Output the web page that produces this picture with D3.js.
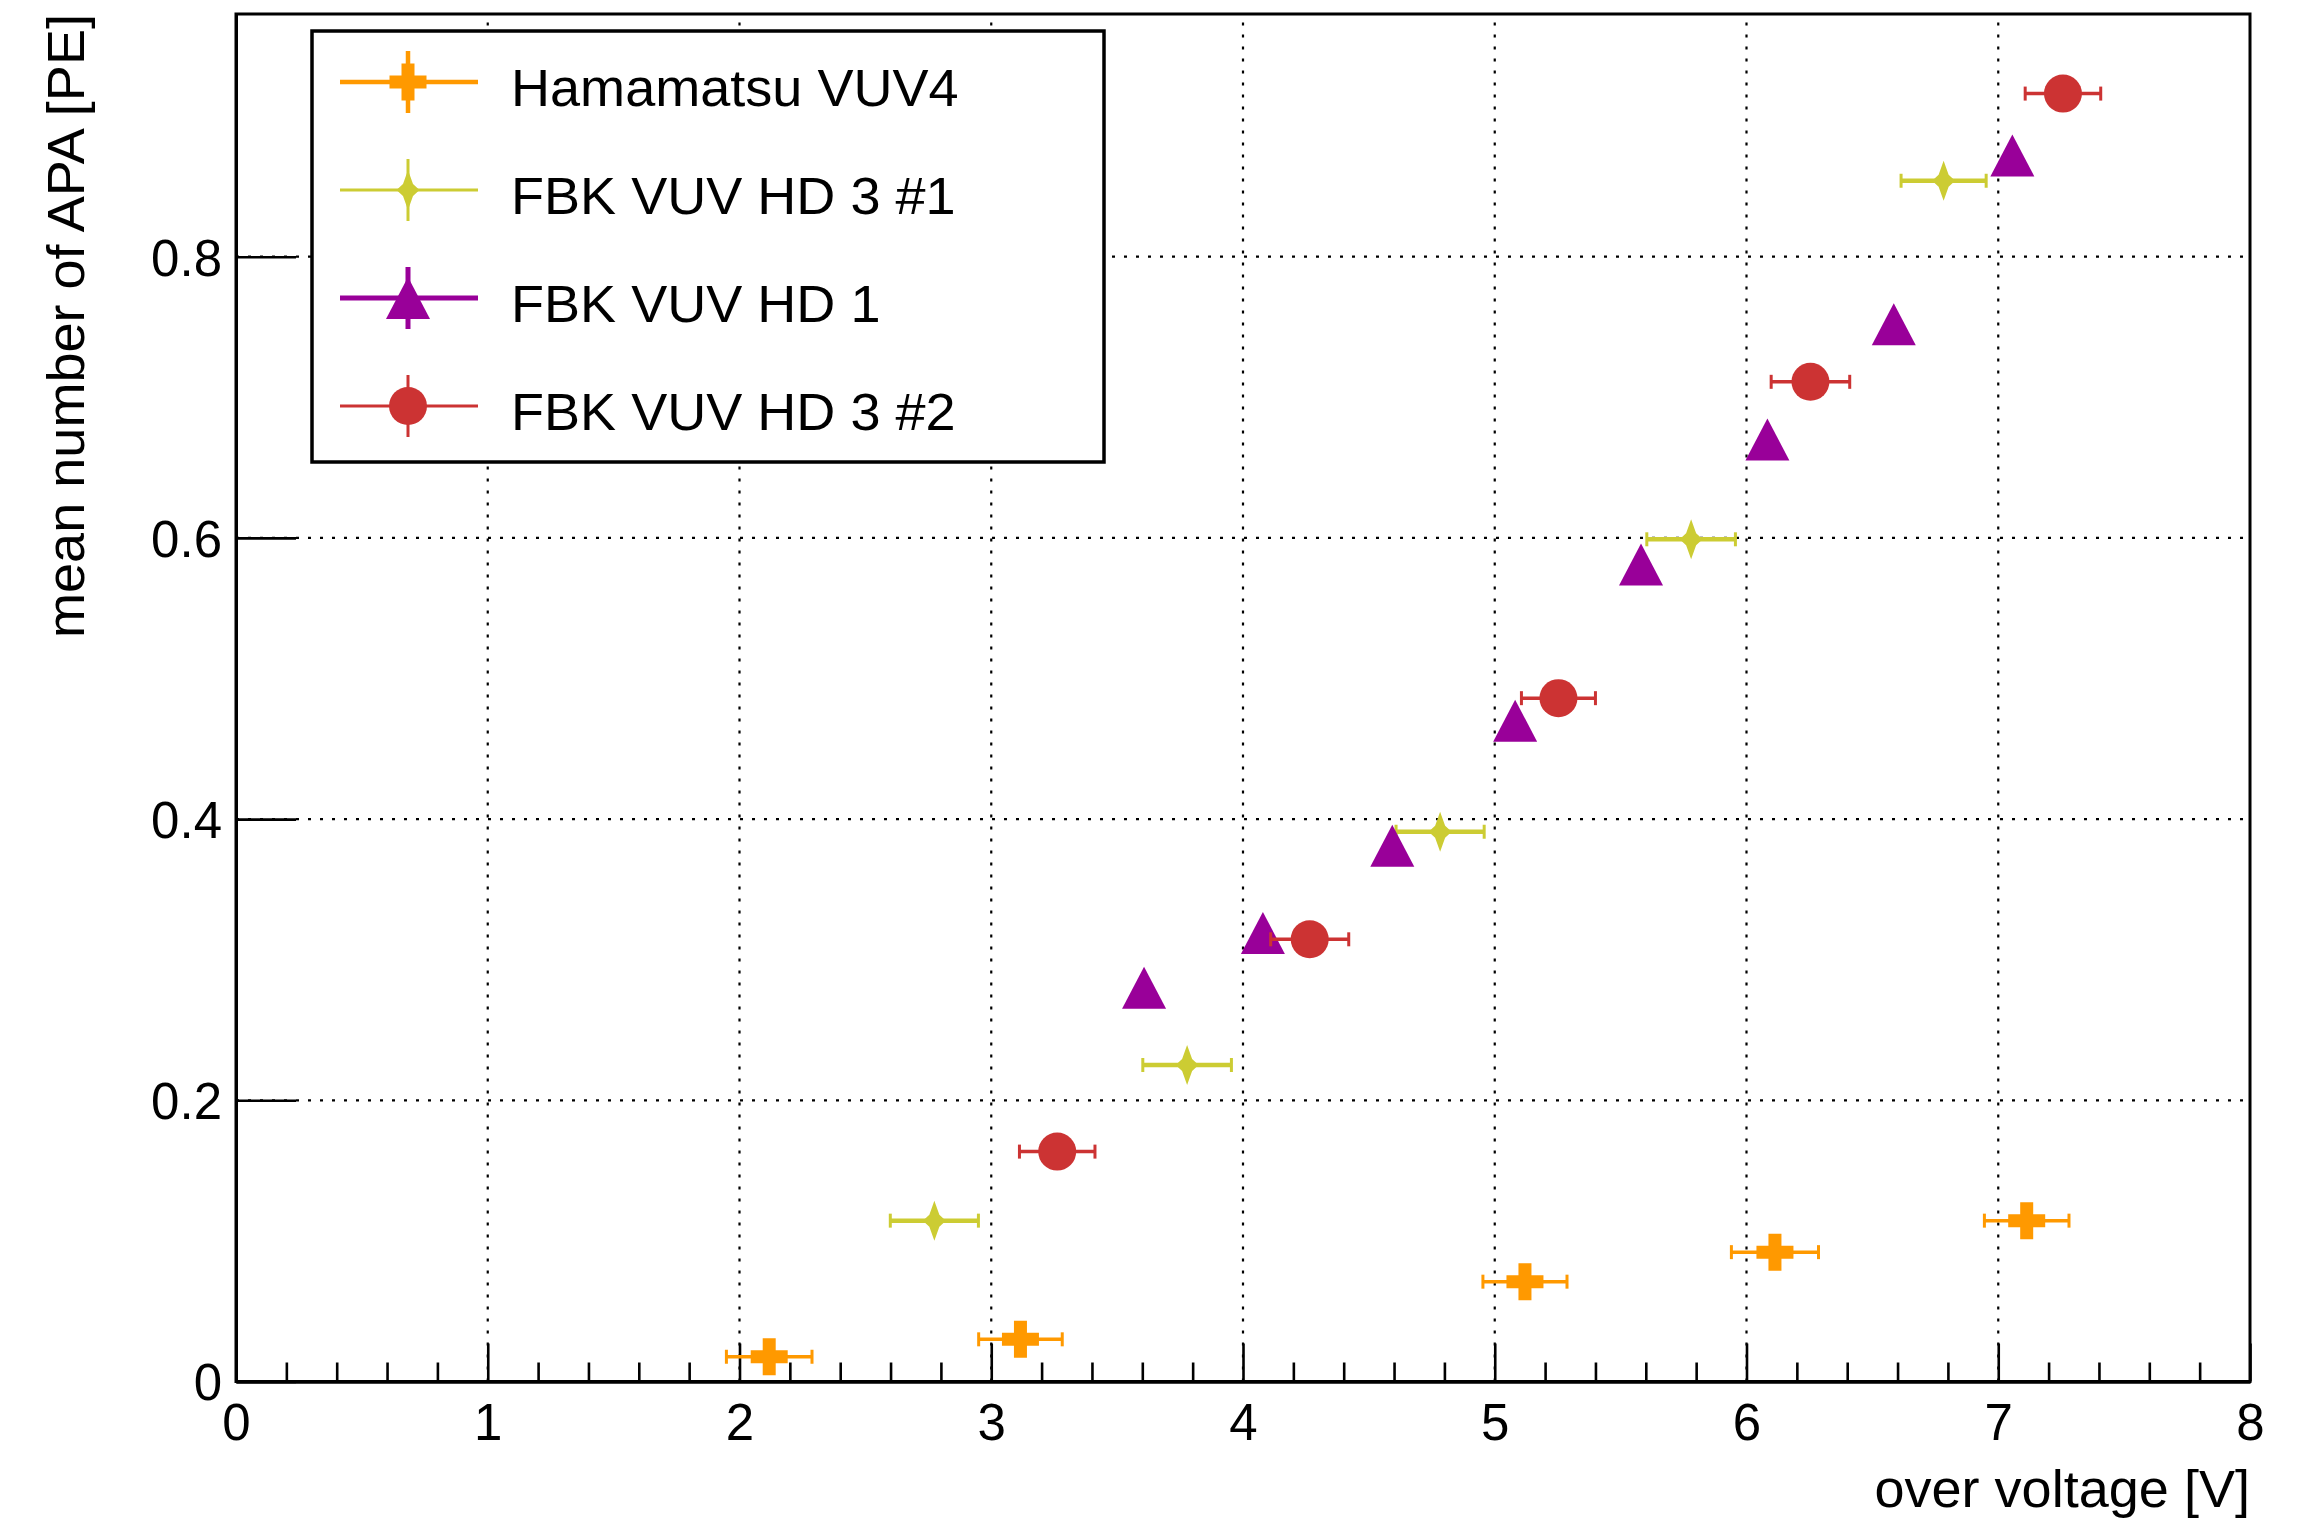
<!DOCTYPE html>
<html>
<head>
<meta charset="utf-8">
<script src="https://cdn.jsdelivr.net/npm/d3@7"></script>
<style>
  body { margin: 0; background: #fff; }
  svg { display: block; font-family: "Liberation Sans", Arial, Helvetica, sans-serif; }
</style>
</head>
<body>
<div id="main-container"></div>
<script>
// values
const hamaX  = [2.118, 3.116, 5.120, 6.113, 7.113];
const hamaY  = [0.0176, 0.030, 0.071, 0.092, 0.1144];
const hamaEx = [0.170, 0.166, 0.167, 0.173, 0.168];

const fbk1X  = [2.774, 3.778, 4.783, 5.780, 6.783];
const fbk1Y  = [0.1144, 0.2251, 0.391, 0.599, 0.854];
const fbk1Ex = [0.175, 0.176, 0.175, 0.176, 0.169];

const hd1X   = [3.607, 4.079, 4.593, 5.081, 5.581, 6.083, 6.585, 7.056];
const hd1Y   = [0.280, 0.319, 0.381, 0.470, 0.581, 0.670, 0.752, 0.872];

const fbk2X  = [3.262, 4.265, 5.253, 6.254, 7.257];
const fbk2Y  = [0.1635, 0.3145, 0.486, 0.711, 0.916];
const fbk2Ex = [0.150, 0.155, 0.147, 0.156, 0.150];

const seriesNames = ["Hamamatsu VUV4", "FBK VUV HD 3 #1", "FBK VUV HD 1", "FBK VUV HD 3 #2"];
const xTicks = [0, 1, 2, 3, 4, 5, 6, 7, 8];
const yTicks = [0, 0.2, 0.4, 0.6, 0.8];
const xDomain = [0, 8];
const yDomain = [0, 0.9726];

const W = 2311, H = 1520;
const margin = { left: 236, right: 61, top: 14, bottom: 138.5 };
const fontSize = 51;
const stretch = 1.06; // reference glyphs run a bit wider than Liberation Sans

const colors = { hama: "#ff9900", fbk1: "#cccc33", hd1: "#990099", fbk2: "#cc3333" };

const svg = d3.select("#main-container").append("svg")
    .attr("width", W)
    .attr("height", H);

svg.append("rect").attr("width", W).attr("height", H).attr("fill", "#fff");

const x = d3.scaleLinear().domain(xDomain).range([margin.left, W - margin.right]);
const y = d3.scaleLinear().domain(yDomain).range([H - margin.bottom, margin.top]);

// dotted grid
const grid = svg.append("g").attr("stroke", "#000").attr("stroke-width", 2.2).attr("stroke-dasharray", "3,9");
grid.selectAll(".gx").data(xTicks.slice(1, -1)).enter().append("line")
    .attr("x1", d => x(d)).attr("x2", d => x(d))
    .attr("y1", y.range()[0]).attr("y2", y.range()[1]);
grid.selectAll(".gy").data(yTicks.slice(1)).enter().append("line")
    .attr("x1", x.range()[0]).attr("x2", x.range()[1])
    .attr("y1", d => y(d)).attr("y2", d => y(d));

// frame
svg.append("rect")
    .attr("x", x.range()[0]).attr("y", y.range()[1])
    .attr("width", x.range()[1] - x.range()[0])
    .attr("height", y.range()[0] - y.range()[1])
    .attr("fill", "none").attr("stroke", "#000").attr("stroke-width", 3);

// axes
const xMinor = d3.range(0, 8.001, 0.2).filter(v => Math.abs(v - Math.round(v)) > 1e-6);

const xAxisMinor = svg.append("g")
    .attr("transform", `translate(0,${y(0)})`)
    .call(d3.axisBottom(x).tickValues(xMinor).tickFormat("").tickSizeInner(-19).tickSizeOuter(0));
const xAxis = svg.append("g")
    .attr("transform", `translate(0,${y(0)})`)
    .call(d3.axisBottom(x).tickValues(xTicks).tickFormat(d3.format("d"))
        .tickSizeInner(-38).tickSizeOuter(0).tickPadding(22));
const yAxis = svg.append("g")
    .attr("transform", `translate(${x(0)},0)`)
    .call(d3.axisLeft(y).tickValues(yTicks).tickFormat(d => d === 0 ? "0" : d.toFixed(1))
        .tickSizeInner(-60).tickSizeOuter(0).tickPadding(14));

[xAxisMinor, xAxis, yAxis].forEach(g => {
    g.select(".domain").attr("stroke-width", 3);
    g.selectAll(".tick line").attr("stroke-width", 2.6);
    g.selectAll("text").attr("font-size", fontSize).attr("fill", "#000")
        .attr("font-family", "'Liberation Sans', Arial, sans-serif");
});
yAxis.selectAll("text").attr("dy", "0.36em");

svg.append("text")
    .attr("transform", `translate(${x.range()[1]},1507) scale(${stretch},1)`)
    .attr("text-anchor", "end").attr("font-size", fontSize)
    .text("over voltage [V]");

svg.append("text")
    .attr("transform", `translate(84,${y.range()[1]}) rotate(-90) scale(${stretch},1)`)
    .attr("text-anchor", "end").attr("font-size", fontSize)
    .text("mean number of APA [PE]");

// marker shapes
const markerPath = {
    cross: "M-6.5,-18.5H6.5V-6.5H18.5V6.5H6.5V18.5H-6.5V6.5H-18.5V-6.5H-6.5Z",
    diamond: "M0,-20L5,-6L11.5,0L5,6L0,20L-5,6L-11.5,0L-5,-6Z",
    triangle: "M-22,21L22,21L0,-21Z",
    circle: "M-19,0A19,19 0 1,0 19,0A19,19 0 1,0 -19,0Z"
};

function drawSeries(xs, ys, exs, color, shape, errWidth) {
    const g = svg.append("g");
    const pts = xs.map((v, i) => ({ x: v, y: ys[i], ex: exs ? exs[i] : 0 }));
    if (exs) {
        g.selectAll(".err").data(pts).enter().append("line")
            .attr("x1", d => x(d.x - d.ex)).attr("x2", d => x(d.x + d.ex))
            .attr("y1", d => y(d.y)).attr("y2", d => y(d.y))
            .attr("stroke", color).attr("stroke-width", errWidth);
        g.selectAll(".capl").data(pts).enter().append("line")
            .attr("x1", d => x(d.x - d.ex)).attr("x2", d => x(d.x - d.ex))
            .attr("y1", d => y(d.y) - 7).attr("y2", d => y(d.y) + 7)
            .attr("stroke", color).attr("stroke-width", 3);
        g.selectAll(".capr").data(pts).enter().append("line")
            .attr("x1", d => x(d.x + d.ex)).attr("x2", d => x(d.x + d.ex))
            .attr("y1", d => y(d.y) - 7).attr("y2", d => y(d.y) + 7)
            .attr("stroke", color).attr("stroke-width", 3);
    }
    g.selectAll(".mk").data(pts).enter().append("path")
        .attr("transform", d => `translate(${x(d.x)},${y(d.y)})`)
        .attr("d", markerPath[shape])
        .attr("fill", color);
}

drawSeries(hamaX, hamaY, hamaEx, colors.hama, "cross", 3.5);
drawSeries(fbk1X, fbk1Y, fbk1Ex, colors.fbk1, "diamond", 4.5);
drawSeries(hd1X, hd1Y, null, colors.hd1, "triangle", 4);
drawSeries(fbk2X, fbk2Y, fbk2Ex, colors.fbk2, "circle", 3.5);

// legend
const legend = svg.append("g");
legend.append("rect")
    .attr("x", 312).attr("y", 31).attr("width", 792).attr("height", 431)
    .attr("fill", "#fff").attr("stroke", "#000").attr("stroke-width", 3.5);

const legendRows = [
    { color: colors.hama, shape: "cross", lw: 4.5 },
    { color: colors.fbk1, shape: "diamond", lw: 3 },
    { color: colors.hd1, shape: "triangle", lw: 5 },
    { color: colors.fbk2, shape: "circle", lw: 3 }
];
const rowY = d3.scalePoint().domain(seriesNames).range([82, 406]);

seriesNames.forEach((name, i) => {
    const r = legendRows[i];
    const cy = rowY(name);
    legend.append("line")
        .attr("x1", 340).attr("x2", 478).attr("y1", cy).attr("y2", cy)
        .attr("stroke", r.color).attr("stroke-width", r.lw);
    legend.append("line")
        .attr("x1", 408).attr("x2", 408).attr("y1", cy - 31).attr("y2", cy + 31)
        .attr("stroke", r.color).attr("stroke-width", r.lw);
    legend.append("path")
        .attr("transform", `translate(408,${cy})`)
        .attr("d", markerPath[r.shape])
        .attr("fill", r.color);
    legend.append("text")
        .attr("transform", `translate(511,${cy + 24}) scale(${stretch},1)`)
        .attr("font-size", fontSize)
        .text(name);
});
</script>
</body>
</html>
